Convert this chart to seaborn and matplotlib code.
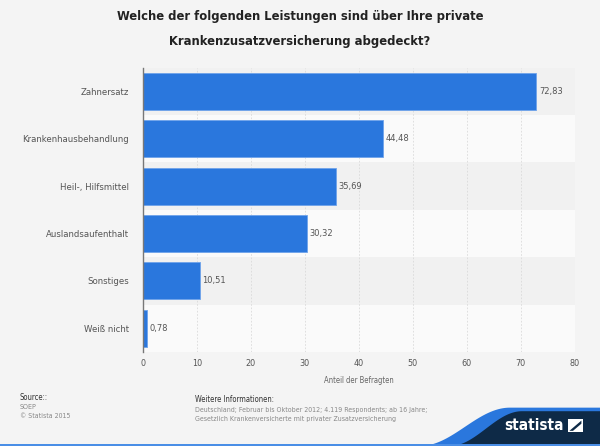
#!/usr/bin/env python3
import numpy as np
import pandas as pd
import matplotlib
matplotlib.use("Agg")
import matplotlib.pyplot as plt
import seaborn as sns
from matplotlib.patches import Polygon, Rectangle
from matplotlib import font_manager

kategorien = ["Zahnersatz", "Krankenhausbehandlung", "Heil-, Hilfsmittel",
              "Auslandsaufenthalt", "Sonstiges", "Weiß nicht"]
anteile = [72.83, 44.48, 35.69, 30.32, 10.51, 0.78]
x_ticks = [0, 10, 20, 30, 40, 50, 60, 70, 80]

TITEL = "Welche der folgenden Leistungen sind über Ihre private\nKrankenzusatzversicherung abgedeckt?"
BLAU = "#2a77dd"
HINTERGRUND = "#f4f4f4"

sns.set_theme(style="white")
namen = {f.name for f in font_manager.fontManager.ttflist}
if "DejaVu Sans Condensed" in namen:
    plt.rcParams["font.family"] = ["DejaVu Sans Condensed", "DejaVu Sans"]
else:
    plt.rcParams["font.family"] = ["DejaVu Sans"]
    plt.rcParams["font.stretch"] = "condensed"

df = pd.DataFrame({"kategorie": kategorien, "anteil": anteile})

fig = plt.figure(figsize=(6.0, 4.46), dpi=100)
fig.patch.set_facecolor(HINTERGRUND)
ax = fig.add_axes([0.238, 0.211, 0.72, 0.637])
ax.set_facecolor(HINTERGRUND)

# abwechselnde Zeilenbänder
for i in range(len(kategorien)):
    farbe = "#f1f1f1" if i % 2 == 0 else "#fafafa"
    ax.axhspan(i - 0.5, i + 0.5, color=farbe, zorder=0, lw=0)

sns.barplot(data=df, x="anteil", y="kategorie", color=BLAU, width=0.78,
            edgecolor="#6fa3ea", linewidth=0.6, saturation=1, ax=ax, zorder=3)

for i, wert in enumerate(anteile):
    ax.text(wert + 0.5, i, f"{wert:.2f}".replace(".", ","), va="center",
            ha="left", fontsize=6.7, color="#555555", zorder=4)

ax.set_xlim(0, 80)
ax.set_ylim(len(kategorien) - 0.5, -0.5)
ax.set_xticks(x_ticks)
ax.set_xticklabels([str(t) for t in x_ticks], fontsize=6.5, color="#555555")
ax.tick_params(axis="y", labelsize=6.8, labelcolor="#555555", length=0, pad=10)
ax.tick_params(axis="x", length=0, pad=5)
ax.grid(axis="x", color="#dadada", linestyle=(0, (2, 2)), linewidth=0.6, zorder=1)
ax.set_axisbelow(True)
for s in ["top", "right", "bottom"]:
    ax.spines[s].set_visible(False)
ax.spines["left"].set_color("#777777")
ax.spines["left"].set_linewidth(1.0)
ax.spines["left"].set_zorder(5)
ax.set_ylabel("")
ax.set_xlabel("Anteil der Befragten", fontsize=5.5, color="#666666", labelpad=6)

fig.text(0.5, 0.935, TITEL, ha="center", va="center", fontsize=9.3,
         fontweight="bold", color="#222222", linespacing=2.15)

# Fußzeile
fig.text(0.033, 0.103, "Source::", fontsize=5.5, color="#333333")
fig.text(0.033, 0.083, "SOEP", fontsize=5, color="#888888")
fig.text(0.033, 0.062, "© Statista 2015", fontsize=5, color="#888888")
fig.text(0.325, 0.098, "Weitere Informationen:", fontsize=5.5, color="#333333")
fig.text(0.325, 0.077, "Deutschland; Februar bis Oktober 2012; 4.119 Respondents; ab 16 Jahre;",
         fontsize=5, color="#888888")
fig.text(0.325, 0.057, "Gesetzlich Krankenversicherte mit privater Zusatzversicherung",
         fontsize=5, color="#888888")

# Logo-Bereich mit Schwung
t = np.linspace(0, 1, 80)
glatt = 0.5 - 0.5 * np.cos(np.pi * t)
blau_x = 0.70 + 0.15 * t
blau_y = 0.086 * glatt
blau_pts = list(zip(blau_x, blau_y)) + [(1.0, 0.086), (1.0, 0.0)]
fig.add_artist(Polygon(blau_pts, closed=True, transform=fig.transFigure,
                       color="#2a77dd", lw=0))
navy_x = 0.75 + 0.12 * t
navy_y = 0.078 * glatt
navy_pts = list(zip(navy_x, navy_y)) + [(1.0, 0.078), (1.0, 0.0)]
fig.add_artist(Polygon(navy_pts, closed=True, transform=fig.transFigure,
                       color="#0e2a47", lw=0))
fig.text(0.84, 0.045, "statista", fontsize=11, fontweight="bold",
         color="white", va="center")
fig.add_artist(Polygon([(0.947, 0.031), (0.971, 0.031), (0.971, 0.060),
                        (0.947, 0.060)], closed=True, transform=fig.transFigure,
                       color="white", lw=0))
fig.add_artist(Polygon([(0.949, 0.034), (0.969, 0.057), (0.969, 0.050),
                        (0.955, 0.034)], closed=True, transform=fig.transFigure,
                       color="#0e2a47", lw=0))
fig.add_artist(Rectangle((0, 0), 1, 0.005, transform=fig.transFigure,
                         color="#4a8ee6", lw=0))

fig.savefig("out.png", dpi=100, facecolor=HINTERGRUND)
